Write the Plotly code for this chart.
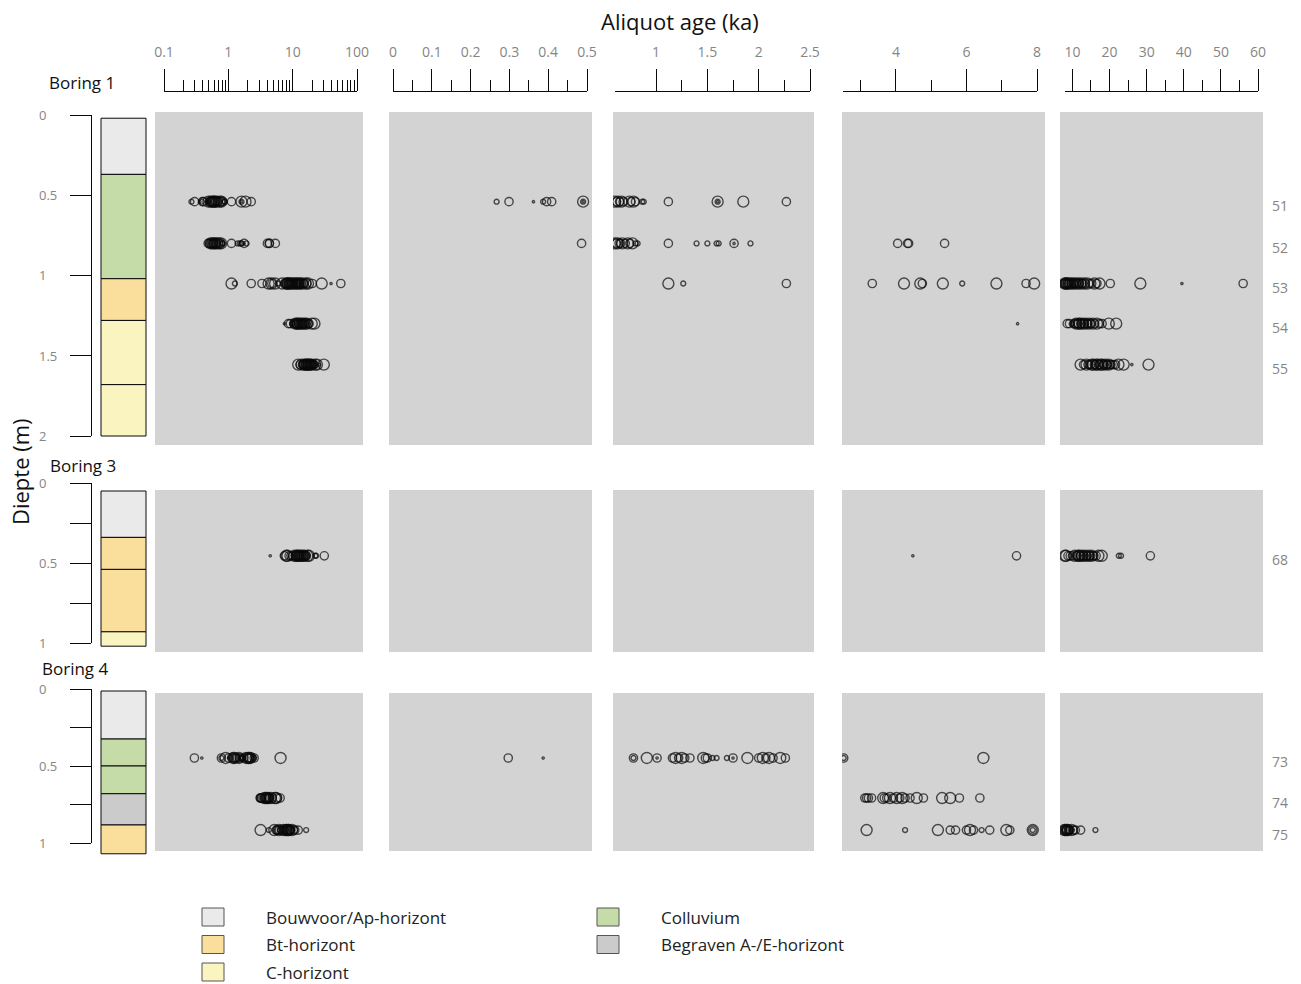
import math
import plotly.graph_objects as go

# ---------------------------------------------------------------------------
# Aliquot ages (ka) per sample, with the relative aliquot weight (1 = large
# aliquot ... 0.2 = tiny aliquot) that sets the circle size.
# ---------------------------------------------------------------------------
S51_AGE = [0.267, 0.299, 0.362, 0.387, 0.396, 0.409, 0.49, 0.49, 0.49,
           0.515, 0.53, 0.545, 0.56, 0.575, 0.59,
           0.60, 0.615, 0.63, 0.645, 0.665, 0.68, 0.74, 0.755, 0.78, 0.80, 0.865, 0.88,
           1.12, 1.60, 1.60, 1.60, 1.85, 2.27]
S51_W = [0.45, 0.75, 0.2, 0.45, 0.75, 0.75, 1.0, 0.45, 0.2,
         0.75, 1.0, 0.75, 1.0, 0.75, 1.0,
         1.0, 0.75, 1.0, 0.75, 1.0, 0.75, 1.0, 0.75, 1.0, 0.75, 0.45, 0.45,
         0.75, 1.0, 0.45, 0.2, 1.0, 0.75]

S52_AGE = [0.486, 0.515, 0.53, 0.545, 0.56, 0.575, 0.59,
           0.60, 0.61, 0.625, 0.64, 0.655, 0.67, 0.70, 0.725, 0.745, 0.77, 0.80, 0.82,
           1.12, 1.395, 1.50, 1.59, 1.61, 1.76, 1.76, 1.92, 4.05, 4.33, 4.36, 5.38]
S52_W = [0.75, 0.75, 1.0, 0.75, 1.0, 0.75, 0.75,
         1.0, 0.75, 1.0, 0.75, 0.75, 1.0, 0.75, 1.0, 0.75, 1.0, 0.45, 0.45,
         0.75, 0.45, 0.45, 0.45, 0.45, 0.75, 0.2, 0.45, 0.75, 0.75, 0.75, 0.75]

S53_AGE = [1.12, 1.265, 2.27, 3.33, 4.23, 4.69, 4.75, 5.33, 5.88, 6.85, 7.69, 7.92,
           8.1, 8.25, 8.4, 8.55, 8.7, 8.85, 9.0, 9.2, 9.4, 9.6, 9.8, 10.0, 10.2, 10.45,
           10.7, 10.95, 11.2, 11.45, 11.7, 11.95, 12.2, 12.5, 12.8, 13.1, 13.4, 14.0,
           14.6, 15.2, 15.9, 16.6, 17.3,
           20.2, 28.3, 39.5, 56.0]
S53_W = [1.0, 0.45, 0.75, 0.75, 1.0, 1.0, 0.75, 1.0, 0.45, 1.0, 0.75, 1.0,
         0.75, 1.0, 1.0, 0.75, 0.75, 1.0, 0.75, 0.75, 1.0, 0.75, 0.75, 1.0, 0.75, 0.75,
         1.0, 0.75, 0.75, 1.0, 0.75, 0.75, 1.0, 0.75, 0.75, 1.0, 0.75, 1.0,
         0.75, 0.75, 1.0, 0.75, 1.0,
         0.75, 1.0, 0.2, 0.75]

S54_AGE = [7.45, 8.6, 9.2, 9.8, 10.5, 10.8, 11.0, 11.2, 11.5, 11.8, 12.0, 12.2, 12.5,
           12.8, 13.0, 13.3, 13.6, 13.9, 14.2, 14.5, 14.8, 15.2, 15.5, 16.0, 16.6, 17.3,
           18.0, 19.8, 21.8]
S54_W = [0.2, 0.75, 0.75, 0.45, 0.75, 0.75, 1.0, 0.75, 0.75, 1.0, 1.0, 0.75, 0.75,
         1.0, 0.75, 0.75, 1.0, 0.75, 0.75, 1.0, 0.75, 0.75, 1.0, 0.75, 1.0, 0.75,
         0.75, 1.0, 1.0]

S55_AGE = [12.2, 13.0, 13.8, 14.2, 14.5, 15.0, 15.3, 15.6, 15.9, 16.2, 16.5, 16.8, 17.1,
           17.4, 17.7, 18.0, 18.3, 18.6, 18.9, 19.2, 19.5, 19.8, 20.1, 20.4, 21.0, 21.6,
           22.4, 23.8, 26.0, 30.5]
S55_W = [1.0, 0.75, 1.0, 0.75, 0.75, 0.75, 1.0, 1.0, 0.75, 0.75, 1.0, 1.0, 0.75,
         0.75, 1.0, 1.0, 0.75, 0.75, 1.0, 0.75, 0.75, 1.0, 0.75, 0.75, 0.75, 0.75,
         1.0, 1.0, 0.2, 1.0]

S68_AGE = [4.48, 7.42, 8.0, 8.3, 8.8, 9.4, 10.0, 10.6, 11.0, 11.3, 11.6, 11.8, 12.0,
           12.3, 12.6, 12.8, 13.1, 13.4, 13.7, 14.0, 14.3, 14.6, 14.9, 15.2, 15.5, 15.8,
           16.4, 17.0, 17.9, 22.5, 23.1, 31.0]
S68_W = [0.2, 0.75, 1.0, 1.0, 0.75, 0.75, 0.75, 1.0, 0.75, 0.75, 1.0, 1.0, 0.75,
         0.75, 1.0, 0.75, 0.75, 1.0, 0.75, 0.75, 1.0, 0.75, 0.75, 1.0, 0.75, 0.75,
         0.75, 1.0, 1.0, 0.45, 0.45, 0.75]

S73_AGE = [0.297, 0.387, 0.78, 0.78, 0.91, 1.01, 1.01, 1.16, 1.19, 1.22, 1.25, 1.28, 1.33,
           1.46, 1.48, 1.50, 1.55, 1.59, 1.69, 1.75, 1.75, 1.89, 2.00, 2.04, 2.07, 2.10,
           2.14, 2.21, 2.26, 2.52, 2.52, 6.48]
S73_W = [0.75, 0.2, 0.75, 0.45, 1.0, 0.75, 0.2, 0.75, 1.0, 0.75, 1.0, 0.75, 0.75,
         1.0, 0.75, 0.75, 0.45, 0.45, 0.45, 0.75, 0.2, 1.0, 0.75, 1.0, 0.75, 1.0,
         0.75, 1.0, 0.75, 0.75, 0.45, 1.0]

S74_AGE = [3.12, 3.17, 3.22, 3.31, 3.64, 3.67, 3.74, 3.83, 3.93, 4.02, 4.11, 4.18, 4.26,
           4.40, 4.59, 4.78, 5.31, 5.54, 5.80, 6.38]
S74_W = [0.75, 0.75, 0.75, 0.75, 1.0, 0.75, 0.75, 1.0, 0.75, 1.0, 0.75, 1.0, 0.75,
         0.75, 1.0, 0.75, 1.0, 1.0, 0.75, 0.75]

S75_AGE = [3.17, 4.26, 5.19, 5.54, 5.69, 6.0, 6.1, 6.2, 6.43, 6.66, 7.13, 7.23, 7.88, 7.88,
           7.88, 8.1, 8.25, 8.4, 8.55, 8.7, 8.85, 9.0, 9.2, 9.4, 9.8, 10.3, 10.8, 12.2,
           16.2]
S75_W = [1.0, 0.45, 1.0, 0.75, 0.75, 0.75, 1.0, 0.75, 0.45, 0.75, 1.0, 0.75, 1.0, 0.75,
         0.45, 1.0, 0.75, 0.75, 1.0, 1.0, 0.75, 0.75, 0.75, 0.75, 1.0, 0.75, 0.75, 0.75,
         0.45]

# Samples per boring: id and depth (m)
BORING1_SAMPLES = ["51", "52", "53", "54", "55"]
BORING1_DEPTH = [0.54, 0.80, 1.05, 1.30, 1.555]
BORING3_SAMPLES = ["68"]
BORING3_DEPTH = [0.455]
BORING4_SAMPLES = ["73", "74", "75"]
BORING4_DEPTH = [0.448, 0.708, 0.916]

# Soil horizons per boring (top / base in m)
BORING1_LAYER_TOP = [0.02, 0.37, 1.02, 1.28, 1.68]
BORING1_LAYER_BASE = [0.37, 1.02, 1.28, 1.68, 2.0]
BORING1_LAYER_UNIT = ["Ap", "Colluvium", "Bt", "C", "C"]
BORING3_LAYER_TOP = [0.05, 0.34, 0.54, 0.93]
BORING3_LAYER_BASE = [0.34, 0.54, 0.93, 1.02]
BORING3_LAYER_UNIT = ["Ap", "Bt", "Bt", "C"]
BORING4_LAYER_TOP = [0.013, 0.325, 0.50, 0.68, 0.883]
BORING4_LAYER_BASE = [0.325, 0.50, 0.68, 0.883, 1.07]
BORING4_LAYER_UNIT = ["Ap", "Colluvium", "Colluvium", "Buried", "Bt"]

UNIT_KEYS = ["Ap", "Bt", "C", "Colluvium", "Buried"]
UNIT_LABELS = ["Bouwvoor/Ap-horizont", "Bt-horizont", "C-horizont", "Colluvium",
               "Begraven A-/E-horizont"]
UNIT_COLORS = ["#eaeaea", "#f9df9b", "#f9f4c0", "#c6dca8", "#cbcbcb"]

# Age-axis ticks per column
AX1_TICKS = [0.1, 1, 10, 100]
AX1_LABELS = ["0.1", "1", "10", "100"]
AX2_TICKS = [0, 0.1, 0.2, 0.3, 0.4, 0.5]
AX2_LABELS = ["0", "0.1", "0.2", "0.3", "0.4", "0.5"]
AX3_TICKS = [1, 1.5, 2, 2.5]
AX3_LABELS = ["1", "1.5", "2", "2.5"]
AX4_TICKS = [4, 6, 8]
AX4_LABELS = ["4", "6", "8"]
AX5_TICKS = [10, 20, 30, 40, 50, 60]
AX5_LABELS = ["10", "20", "30", "40", "50", "60"]

# ---------------------------------------------------------------------------
W, H = 1301, 984
INK = "#0a0a0a"
GREY_TEXT = "#858585"
PANEL_GREY = "#d4d3d4"
FONT = "Open Sans, Noto Sans, DejaVu Sans, sans-serif"
MAX_MARKER = 11


def fx(p):
    return p / W


def fy(p):
    return 1 - p / H


unit_color = dict(zip(UNIT_KEYS, UNIT_COLORS))

# Age columns: axis extent (lo..hi) drawn over pixels p0..p1, panel over q0..q1,
# and the age window shown in each column.
AGE_COLUMNS = [
    dict(log=True, lo=0.1, hi=100, p0=164, p1=357, q0=155, q1=363, win=(0, 1e9),
         ticks=AX1_TICKS, labels=AX1_LABELS,
         minor=[m * 10.0 ** e for e in (-1, 0, 1) for m in range(2, 10)]),
    dict(log=False, lo=0, hi=0.5, p0=393, p1=587, q0=389, q1=592, win=(0, 0.51),
         ticks=AX2_TICKS, labels=AX2_LABELS, minor=[0.05, 0.15, 0.25, 0.35, 0.45]),
    dict(log=False, lo=0.6, hi=2.5, p0=615, p1=810, q0=613, q1=814, win=(0.595, 2.499),
         ticks=AX3_TICKS, labels=AX3_LABELS, minor=[1.25, 1.75, 2.25]),
    dict(log=False, lo=2.5, hi=8, p0=843, p1=1037, q0=842, q1=1045, win=(2.5, 7.95),
         ticks=AX4_TICKS, labels=AX4_LABELS, minor=[3, 5, 7]),
    dict(log=False, lo=8, hi=60, p0=1065, p1=1258, q0=1060, q1=1263, win=(7.6, 1e9),
         ticks=AX5_TICKS, labels=AX5_LABELS, minor=[15, 25, 35, 45, 55]),
]

ROWS = [
    dict(title="Boring 1", title_xy=(47, 82), ids=BORING1_SAMPLES, depth=BORING1_DEPTH,
         ages=[S51_AGE, S52_AGE, S53_AGE, S54_AGE, S55_AGE],
         weights=[S51_W, S52_W, S53_W, S54_W, S55_W],
         top=BORING1_LAYER_TOP, base=BORING1_LAYER_BASE, unit=BORING1_LAYER_UNIT,
         d0=115, d1=436, dmax=2.0, tickvals=[0, 0.5, 1, 1.5, 2],
         ticktext=["0", "0.5", "1", "1.5", "2"], panel=(112, 445)),
    dict(title="Boring 3", title_xy=(48, 465), ids=BORING3_SAMPLES, depth=BORING3_DEPTH,
         ages=[S68_AGE], weights=[S68_W],
         top=BORING3_LAYER_TOP, base=BORING3_LAYER_BASE, unit=BORING3_LAYER_UNIT,
         d0=483, d1=643, dmax=1.0, tickvals=[0, 0.25, 0.5, 0.75, 1],
         ticktext=["0", "", "0.5", "", "1"], panel=(490, 652)),
    dict(title="Boring 4", title_xy=(40, 668), ids=BORING4_SAMPLES, depth=BORING4_DEPTH,
         ages=[S73_AGE, S74_AGE, S75_AGE], weights=[S73_W, S74_W, S75_W],
         top=BORING4_LAYER_TOP, base=BORING4_LAYER_BASE, unit=BORING4_LAYER_UNIT,
         d0=689, d1=843, dmax=1.0, tickvals=[0, 0.25, 0.5, 0.75, 1],
         ticktext=["0", "", "0.5", "", "1"], panel=(693, 851)),
]

fig = go.Figure()
layout = {}
shapes = []
annotations = []
counter = [0]


def new_axes():
    counter[0] += 1
    i = counter[0]
    s = "" if i == 1 else str(i)
    return "xaxis" + s, "yaxis" + s, "x" + s, "y" + s


def col_range(c):
    f = math.log10 if c["log"] else (lambda v: v)
    a, b = f(c["lo"]), f(c["hi"])
    slope = (b - a) / (c["p1"] - c["p0"])
    return [a + (c["q0"] - c["p0"]) * slope, a + (c["q1"] - c["p0"]) * slope]


def dummy(xr, yr):
    return go.Scatter(x=[0], y=[0], mode="markers", marker=dict(opacity=0, size=1),
                      xaxis=xr, yaxis=yr, hoverinfo="skip", showlegend=False)


for row in ROWS:
    d0, d1, dmax = row["d0"], row["d1"], row["dmax"]

    def depth_at(p, d0=d0, d1=d1, dmax=dmax):
        return (p - d0) / (d1 - d0) * dmax

    pt, pb = row["panel"]

    # ---- age panels ----
    last_y = None
    for c in AGE_COLUMNS:
        xa, ya, xr, yr = new_axes()
        layout[xa] = dict(domain=[fx(c["q0"]), fx(c["q1"])], range=col_range(c),
                          type="log" if c["log"] else "linear", visible=False, anchor=yr)
        layout[ya] = dict(domain=[fy(pb), fy(pt)], range=[depth_at(pb), depth_at(pt)],
                          visible=False, anchor=xr)
        shapes.append(dict(type="rect", xref=xr + " domain", yref=yr + " domain",
                           x0=0, x1=1, y0=0, y1=1, fillcolor=PANEL_GREY,
                           line=dict(width=0), layer="below"))
        lo, hi = c["win"]
        xs, ys, ss = [], [], []
        for d, ages, wts in zip(row["depth"], row["ages"], row["weights"]):
            for a, w in zip(ages, wts):
                if lo <= a <= hi:
                    xs.append(a)
                    ys.append(d)
                    ss.append(w * MAX_MARKER)
        fig.add_trace(go.Scatter(
            x=xs, y=ys, mode="markers", xaxis=xr, yaxis=yr, hoverinfo="skip",
            showlegend=False, cliponaxis=True,
            marker=dict(symbol="circle-open", size=ss, color=INK,
                        line=dict(width=1.4, color=INK))))
        last_y = yr

    # sample ids to the right of the last column
    for sid, d in zip(row["ids"], row["depth"]):
        annotations.append(dict(text=sid, xref="paper", yref=last_y, x=fx(1280), y=d,
                                xanchor="center", yanchor="middle", yshift=-4,
                                showarrow=False,
                                font=dict(family=FONT, size=14, color=GREY_TEXT)))

    # ---- soil column ----
    xa, ya, xr, yr = new_axes()
    cl, cr = 101, 146
    layout[xa] = dict(domain=[fx(cl - 2), fx(cr + 2)],
                      range=[-2 / (cr - cl), 1 + 2 / (cr - cl)], visible=False, anchor=yr)
    st, sb = pt - 6, pb + 8
    layout[ya] = dict(domain=[fy(sb), fy(st)], range=[depth_at(sb), depth_at(st)],
                      visible=False, anchor=xr)
    fig.add_trace(go.Bar(
        x=[0.5] * len(row["top"]),
        y=[b - t for t, b in zip(row["top"], row["base"])],
        base=row["top"], width=1, xaxis=xr, yaxis=yr, hoverinfo="skip", showlegend=False,
        marker=dict(color=[unit_color[u] for u in row["unit"]],
                    line=dict(color=INK, width=1))))

    # ---- depth axis (line + ticks; labels placed as text left-aligned) ----
    xa, ya, xr, yr = new_axes()
    layout[xa] = dict(domain=[0, 0.01], visible=False, anchor=yr)
    layout[ya] = dict(domain=[fy(d1), fy(d0)], range=[dmax, 0], anchor="free",
                      position=fx(91), side="left", showline=True, linecolor=INK,
                      linewidth=1.2, ticks="outside", ticklen=21, tickwidth=1.2,
                      tickcolor=INK, tickmode="array", tickvals=row["tickvals"],
                      showticklabels=False, showgrid=False, zeroline=False)
    fig.add_trace(dummy(xr, yr))
    for v, t in zip(row["tickvals"], row["ticktext"]):
        if t:
            annotations.append(dict(text=t, xref="paper", yref=yr, x=fx(37), y=v,
                                    xanchor="left", yanchor="middle", showarrow=False,
                                    font=dict(family=FONT, size=13, color=GREY_TEXT)))

    tx, ty = row["title_xy"]
    annotations.append(dict(text=row["title"], xref="paper", yref="paper", x=fx(tx),
                            y=fy(ty), xanchor="left", yanchor="middle", showarrow=False,
                            font=dict(family=FONT, size=17, color="#111")))

# ---- top age axes ----
AXIS_LINE_Y = 92
for c in AGE_COLUMNS:
    xa, ya, xr, yr = new_axes()
    layout[xa] = dict(domain=[fx(c["p0"]), fx(c["p1"])],
                      type="log" if c["log"] else "linear",
                      range=[math.log10(c["lo"]), math.log10(c["hi"])] if c["log"]
                      else [c["lo"], c["hi"]],
                      anchor=yr, side="top", showline=True, linecolor=INK, linewidth=1.2,
                      ticks="outside", ticklen=22, tickwidth=1.2, tickcolor=INK,
                      tickmode="array", tickvals=c["ticks"], ticktext=c["labels"],
                      showgrid=False, zeroline=False, ticklabelstandoff=6,
                      automargin=False,
                      tickfont=dict(family=FONT, size=14, color=GREY_TEXT),
                      minor=dict(tickmode="array", tickvals=c["minor"], ticks="outside",
                                 ticklen=11, tickwidth=1.2, tickcolor=INK, showgrid=False))
    layout[ya] = dict(domain=[fy(AXIS_LINE_Y) - 0.01, fy(AXIS_LINE_Y)], visible=False,
                      anchor=xr)
    fig.add_trace(go.Scatter(x=[c["lo"]], y=[0], mode="markers",
                             marker=dict(opacity=0, size=1), xaxis=xr, yaxis=yr,
                             hoverinfo="skip", showlegend=False))

# ---- titles ----
annotations.append(dict(text="Aliquot age (ka)", xref="paper", yref="paper", x=fx(680),
                        y=fy(21), xanchor="center", yanchor="middle", showarrow=False,
                        font=dict(family=FONT, size=22, color="#111")))
annotations.append(dict(text="Diepte (m)", xref="paper", yref="paper", x=fx(20),
                        y=fy(472), xanchor="center", yanchor="middle", textangle=-90,
                        showarrow=False, font=dict(family=FONT, size=22, color="#111")))

# ---- horizon key ----
KEY_COLUMNS = [(202, 264, ["Ap", "Bt", "C"]), (597, 659, ["Colluvium", "Buried"])]
KEY_FIRST_Y, KEY_PITCH, KEY_BOX_W, KEY_BOX_H = 917, 27.5, 22, 18
unit_label = dict(zip(UNIT_KEYS, UNIT_LABELS))
for bx, tx, keys in KEY_COLUMNS:
    for j, key in enumerate(keys):
        cy = KEY_FIRST_Y + j * KEY_PITCH
        shapes.append(dict(type="rect", xref="paper", yref="paper", x0=fx(bx),
                           x1=fx(bx + KEY_BOX_W), y0=fy(cy + KEY_BOX_H / 2),
                           y1=fy(cy - KEY_BOX_H / 2), fillcolor=unit_color[key],
                           line=dict(color="#555", width=1)))
        annotations.append(dict(text=unit_label[key], xref="paper", yref="paper",
                                x=fx(tx), y=fy(cy), xanchor="left", yanchor="middle",
                                showarrow=False,
                                font=dict(family=FONT, size=17, color="#222")))

fig.update_layout(**layout)
fig.update_layout(width=W, height=H, autosize=False,
                  margin=dict(l=0, r=0, t=0, b=0, pad=0, autoexpand=False),
                  paper_bgcolor="white", plot_bgcolor="rgba(0,0,0,0)", showlegend=False,
                  hovermode=False, shapes=shapes, annotations=annotations,
                  font=dict(family=FONT))

# page without body margin so the 1301x984 figure fills the window exactly
fig.write_html("out.html",
               post_script="document.body.style.margin='0';"
                           "document.body.style.padding='0';"
                           "document.body.style.overflow='hidden';")
